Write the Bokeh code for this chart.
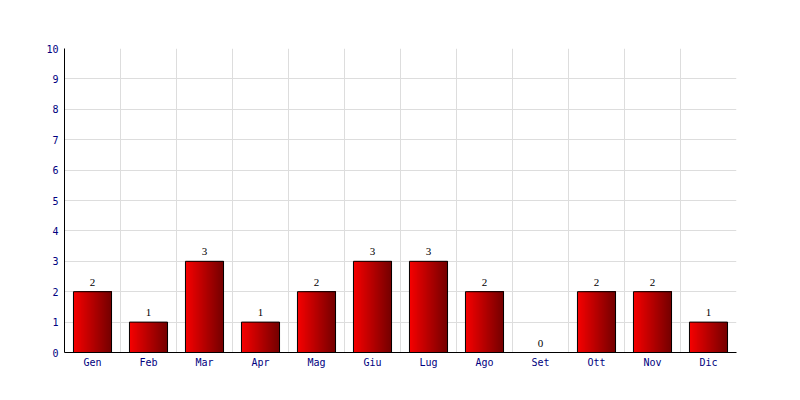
from bokeh.plotting import figure
from bokeh.models import FixedTicker, Grid, ColumnDataSource, LabelSet
from bokeh.embed import file_html
from bokeh.resources import INLINE

months = ["Gen", "Feb", "Mar", "Apr", "Mag", "Giu", "Lug", "Ago", "Set", "Ott", "Nov", "Dic"]
counts = [2, 1, 3, 1, 2, 3, 3, 2, 0, 2, 2, 1]
y_ticks = list(range(0, 11))

FONT = "DejaVu Sans Mono"
bar_w = 0.68
centers = [i + 0.5 for i in range(len(months))]

p = figure(width=792, height=392, x_range=(0, len(months)), y_range=(0, 10),
           output_backend="svg", toolbar_location=None,
           min_border_left=64, min_border_right=56, min_border_top=48, min_border_bottom=40)
p.outline_line_color = None
p.background_fill_color = "white"
p.border_fill_color = "white"

# gradient bars via overlapping slices (each slice runs to the bar's right edge)
n = 30
sw = bar_w / n
rights = [c + bar_w / 2 for c in centers]
bottoms = [0] * len(centers)
for k in range(n):
    t = k / (n - 1)
    r = int(245 - t * (245 - 118))
    col = "#%02x%02x%02x" % (r, 0, 0)
    lefts = [c - bar_w / 2 + sw * k for c in centers]
    p.quad(left=lefts, right=rights, top=counts, bottom=bottoms, fill_color=col, line_color=None)
p.vbar(x=centers, top=counts, bottom=0, width=bar_w, fill_color=None, line_color="black", line_width=1)

src = ColumnDataSource(dict(x=centers, y=counts, t=[str(v) for v in counts]))
p.add_layout(LabelSet(x="x", y="y", text="t", source=src, y_offset=6, text_align="center",
                      text_baseline="alphabetic", text_font=FONT, text_font_size="11px",
                      text_color="black"))

p.xaxis.ticker = FixedTicker(ticks=centers)
p.xaxis.major_label_overrides = {c: m for c, m in zip(centers, months)}
p.yaxis.ticker = FixedTicker(ticks=y_ticks)
for ax in (p.xaxis, p.yaxis):
    ax.major_tick_out = 0
    ax.major_tick_in = 0
    ax.minor_tick_out = 0
    ax.minor_tick_in = 0
    ax.axis_line_color = "black"
    ax.major_label_text_font = FONT
    ax.major_label_text_font_size = "10px"
    ax.major_label_text_color = "#000080"
p.yaxis.major_label_standoff = 6
p.xaxis.major_label_standoff = 4

p.xgrid.visible = False
p.ygrid.grid_line_color = "#dddddd"
p.add_layout(Grid(dimension=0, ticker=FixedTicker(ticks=list(range(len(months) + 1))),
                  grid_line_color="#dddddd"))

open("out.html", "w").write(file_html(p, INLINE))
